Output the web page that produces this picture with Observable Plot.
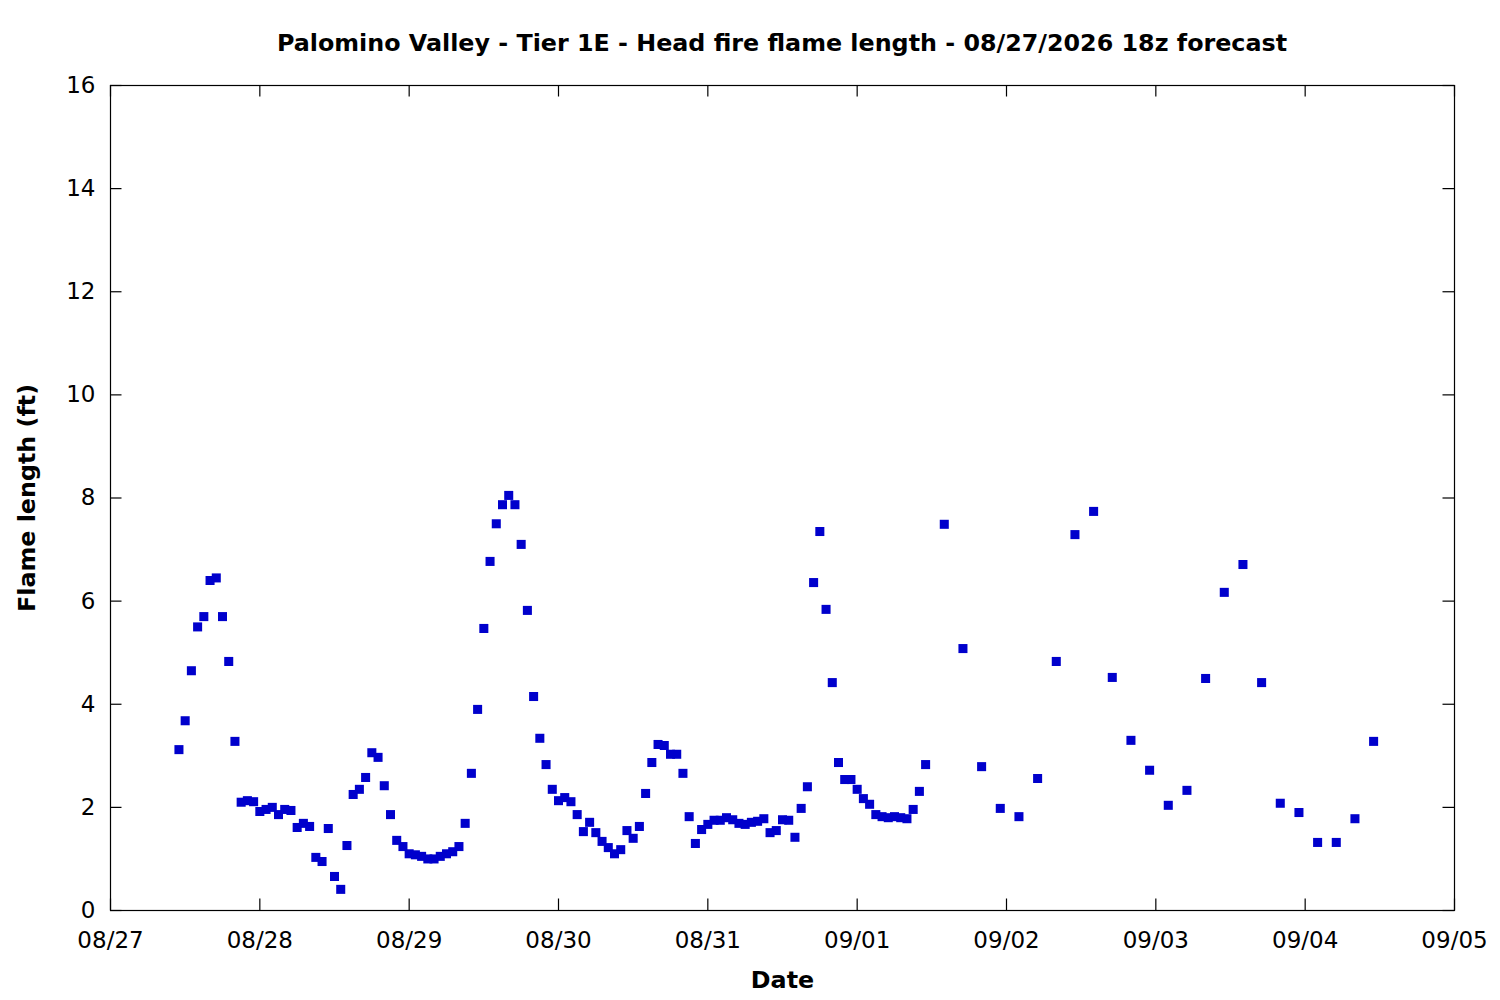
<!DOCTYPE html>
<html>
<head>
<meta charset="utf-8">
<script src="https://cdn.jsdelivr.net/npm/d3@7"></script>
<script src="https://cdn.jsdelivr.net/npm/@observablehq/plot@0.6"></script>
<style>
  html, body { margin: 0; padding: 0; background: #fff; }
  #title {
    width: 1344px; margin-left: 110px; height: 70px; box-sizing: border-box;
    padding-top: 29px; line-height: 28px; text-align: center;
    font-family: "DejaVu Sans", sans-serif; font-weight: bold; font-size: 23.8px; color: #000;
    white-space: nowrap;
  }
</style>
</head>
<body>
<div id="title">Palomino Valley - Tier 1E - Head fire flame length - 08/27/2026 18z forecast</div>
<div id="chart"></div>
<script>
// Hourly forecast values (ft), starting 2026-08-27 11:00
const hourlyStart = "2026-08-27T11:00:00Z";
const hourlyValues = [
  3.12, 3.68, 4.65, 5.50, 5.70, 6.40, 6.45, 5.70, 4.83, 3.28,
  2.10, 2.13, 2.11, 1.92, 1.96, 2.00, 1.86, 1.96, 1.94, 1.61,
  1.69, 1.63, 1.03, 0.95, 1.59, 0.66, 0.41, 1.26, 2.25, 2.35,
  2.58, 3.06, 2.97, 2.42, 1.86, 1.36, 1.24, 1.10, 1.08, 1.05,
  1.00, 1.00, 1.05, 1.10, 1.14, 1.24, 1.69, 2.66, 3.90, 5.47,
  6.77, 7.50, 7.87, 8.05, 7.87, 7.10, 5.82, 4.15, 3.34, 2.83,
  2.35, 2.13, 2.19, 2.11, 1.86, 1.53, 1.71, 1.51, 1.34, 1.22,
  1.10, 1.18, 1.55, 1.40, 1.63, 2.27, 2.87, 3.22, 3.20, 3.03,
  3.03, 2.66, 1.82, 1.30, 1.57, 1.67, 1.75, 1.75, 1.80, 1.76,
  1.69, 1.67, 1.71, 1.73, 1.78, 1.51, 1.55, 1.76, 1.75, 1.42,
  1.98, 2.40, 6.36, 7.35, 5.84, 4.42, 2.87, 2.54, 2.54, 2.35,
  2.17, 2.06, 1.86, 1.82, 1.80, 1.82, 1.80, 1.78, 1.96, 2.31,
  2.83
];
// 3-hourly forecast values (ft), starting 2026-09-01 14:00
const threeHourlyStart = "2026-09-01T14:00:00Z";
const threeHourlyValues = [
  7.49, 5.08, 2.79, 1.98, 1.82, 2.56, 4.83, 7.29, 7.74, 4.52,
  3.30, 2.72, 2.04, 2.33, 4.50, 6.17, 6.71, 4.42, 2.08, 1.90,
  1.32, 1.32, 1.78, 3.28
];
const xTickLabels = ["08/27","08/28","08/29","08/30","08/31","09/01","09/02","09/03","09/04","09/05"];
const yTickValues = [0, 2, 4, 6, 8, 10, 12, 14, 16];

const HOUR = 3600 * 1000;
const data = [
  ...hourlyValues.map((v, i) => ({date: new Date(Date.parse(hourlyStart) + i * HOUR), value: v})),
  ...threeHourlyValues.map((v, i) => ({date: new Date(Date.parse(threeHourlyStart) + i * 3 * HOUR), value: v}))
];
const xTicks = xTickLabels.map(s => new Date(`2026-${s.slice(0,2)}-${s.slice(3,5)}T00:00:00Z`));

const W = 1500, H = 930;
const mL = 110, mR = 46, mT = 15, mB = 90;
const plotW = W - mL - mR, plotH = H - mT - mB;
const tickLen = 11.5;
const fmt = d3.utcFormat("%m/%d");

const chart = Plot.plot({
  width: W, height: H,
  marginLeft: mL, marginRight: mR, marginTop: mT, marginBottom: mB,
  style: {fontFamily: "DejaVu Sans, sans-serif", fontSize: "23px", color: "#000", background: "#fff", overflow: "visible"},
  x: {type: "utc", domain: [xTicks[0], xTicks[xTicks.length - 1]]},
  y: {domain: [0, 16]},
  marks: [
    Plot.frame({stroke: "#000", strokeWidth: 1.2}),
    Plot.tickX(xTicks, {x: d => d, insetTop: plotH - tickLen, stroke: "#000", strokeWidth: 1.2}),
    Plot.tickX(xTicks, {x: d => d, insetBottom: plotH - tickLen, stroke: "#000", strokeWidth: 1.2}),
    Plot.tickY(yTickValues, {y: d => d, insetRight: plotW - tickLen, stroke: "#000", strokeWidth: 1.2}),
    Plot.tickY(yTickValues, {y: d => d, insetLeft: plotW - tickLen, stroke: "#000", strokeWidth: 1.2}),
    Plot.axisX({ticks: xTicks, tickFormat: fmt, tickSize: 0, tickPadding: 21, label: null, fontSize: 23}),
    Plot.axisY({ticks: yTickValues, tickSize: 0, tickPadding: 15, label: null, fontSize: 23}),
    Plot.dot(data, {x: "date", y: "value", symbol: "square", r: 5.1, fill: "#0000cc", stroke: "none"}),
    Plot.text(["Date"], {frameAnchor: "bottom", dy: 77, fontWeight: "bold", fontSize: 23.8, fill: "#000"}),
    Plot.text(["Flame length (ft)"], {frameAnchor: "left", dx: -83, rotate: -90, textAnchor: "middle", fontWeight: "bold", fontSize: 23.8, fill: "#000"})
  ]
});
document.getElementById("chart").appendChild(chart);
</script>
</body>
</html>
